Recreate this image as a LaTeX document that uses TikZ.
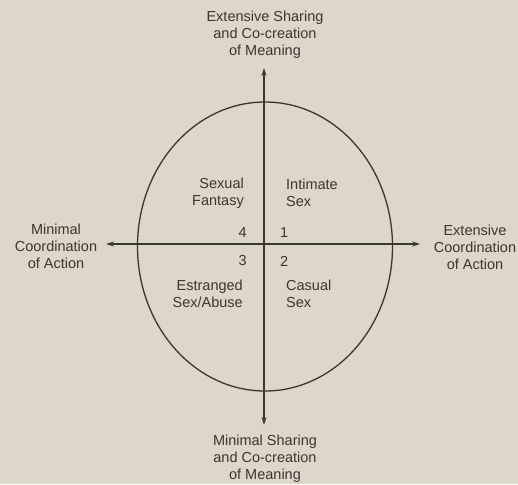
\documentclass[tikz,border=0pt]{standalone}
\usepackage{fontspec}
\setmainfont{Liberation Sans}
\usetikzlibrary{arrows.meta}
\definecolor{paper}{RGB}{221,215,201}
\definecolor{ink}{RGB}{58,54,50}
\tikzset{
  lbl/.style={inner sep=0pt, text=ink, font=\fontsize{14.5}{17}\selectfont},
  axis/.style={draw=ink, line width=1.3pt, {Stealth[length=8pt,width=5pt]}-{Stealth[length=8pt,width=5pt]}},
  oval/.style={draw=ink, line width=1.3pt}
}
\begin{document}
\begin{tikzpicture}[x=1pt,y=-1pt]
\fill[paper] (0,0) rectangle (518,484);
\useasboundingbox (0,0) rectangle (518,484);
% ellipse
\draw[oval] (265,246.5) ellipse [x radius=127.5, y radius=144.5];
% axes
\coordinate (top) at (264,68);
\coordinate (bot) at (264,425);
\coordinate (lft) at (106,244);
\coordinate (rgt) at (420,244);
\draw[axis] (top) -- (bot);
\draw[axis] (lft) -- (rgt);
% axis labels
\node[lbl, align=center] (tl) at (265,35) {Extensive Sharing\\and Co-creation\\of Meaning};
\node[lbl, align=center] (bl) at (265,459) {Minimal Sharing\\and Co-creation\\of Meaning};
\node[lbl, align=center] (ll) at (56,246) {Minimal\\Coordination\\of Action};
\node[lbl, align=center] (rl) at (475,247) {Extensive\\Coordination\\of Action};
% quadrant labels
\node[lbl, align=right, anchor=east] (q4) at (244,193) {Sexual\\Fantasy};
\node[lbl, align=left, anchor=west] (q1) at (286,193) {Intimate\\Sex};
\node[lbl, align=right, anchor=east] (q3) at (243,294) {Estranged\\Sex/Abuse};
\node[lbl, align=left, anchor=west] (q2) at (286,294) {Casual\\Sex};
% numbers
\node[lbl, anchor=east] (n4) at (247,233) {4};
\node[lbl, anchor=west] (n1) at (280,233) {1};
\node[lbl, anchor=east] (n3) at (247,261) {3};
\node[lbl, anchor=west] (n2) at (280,261) {2};
\end{tikzpicture}
\end{document}
